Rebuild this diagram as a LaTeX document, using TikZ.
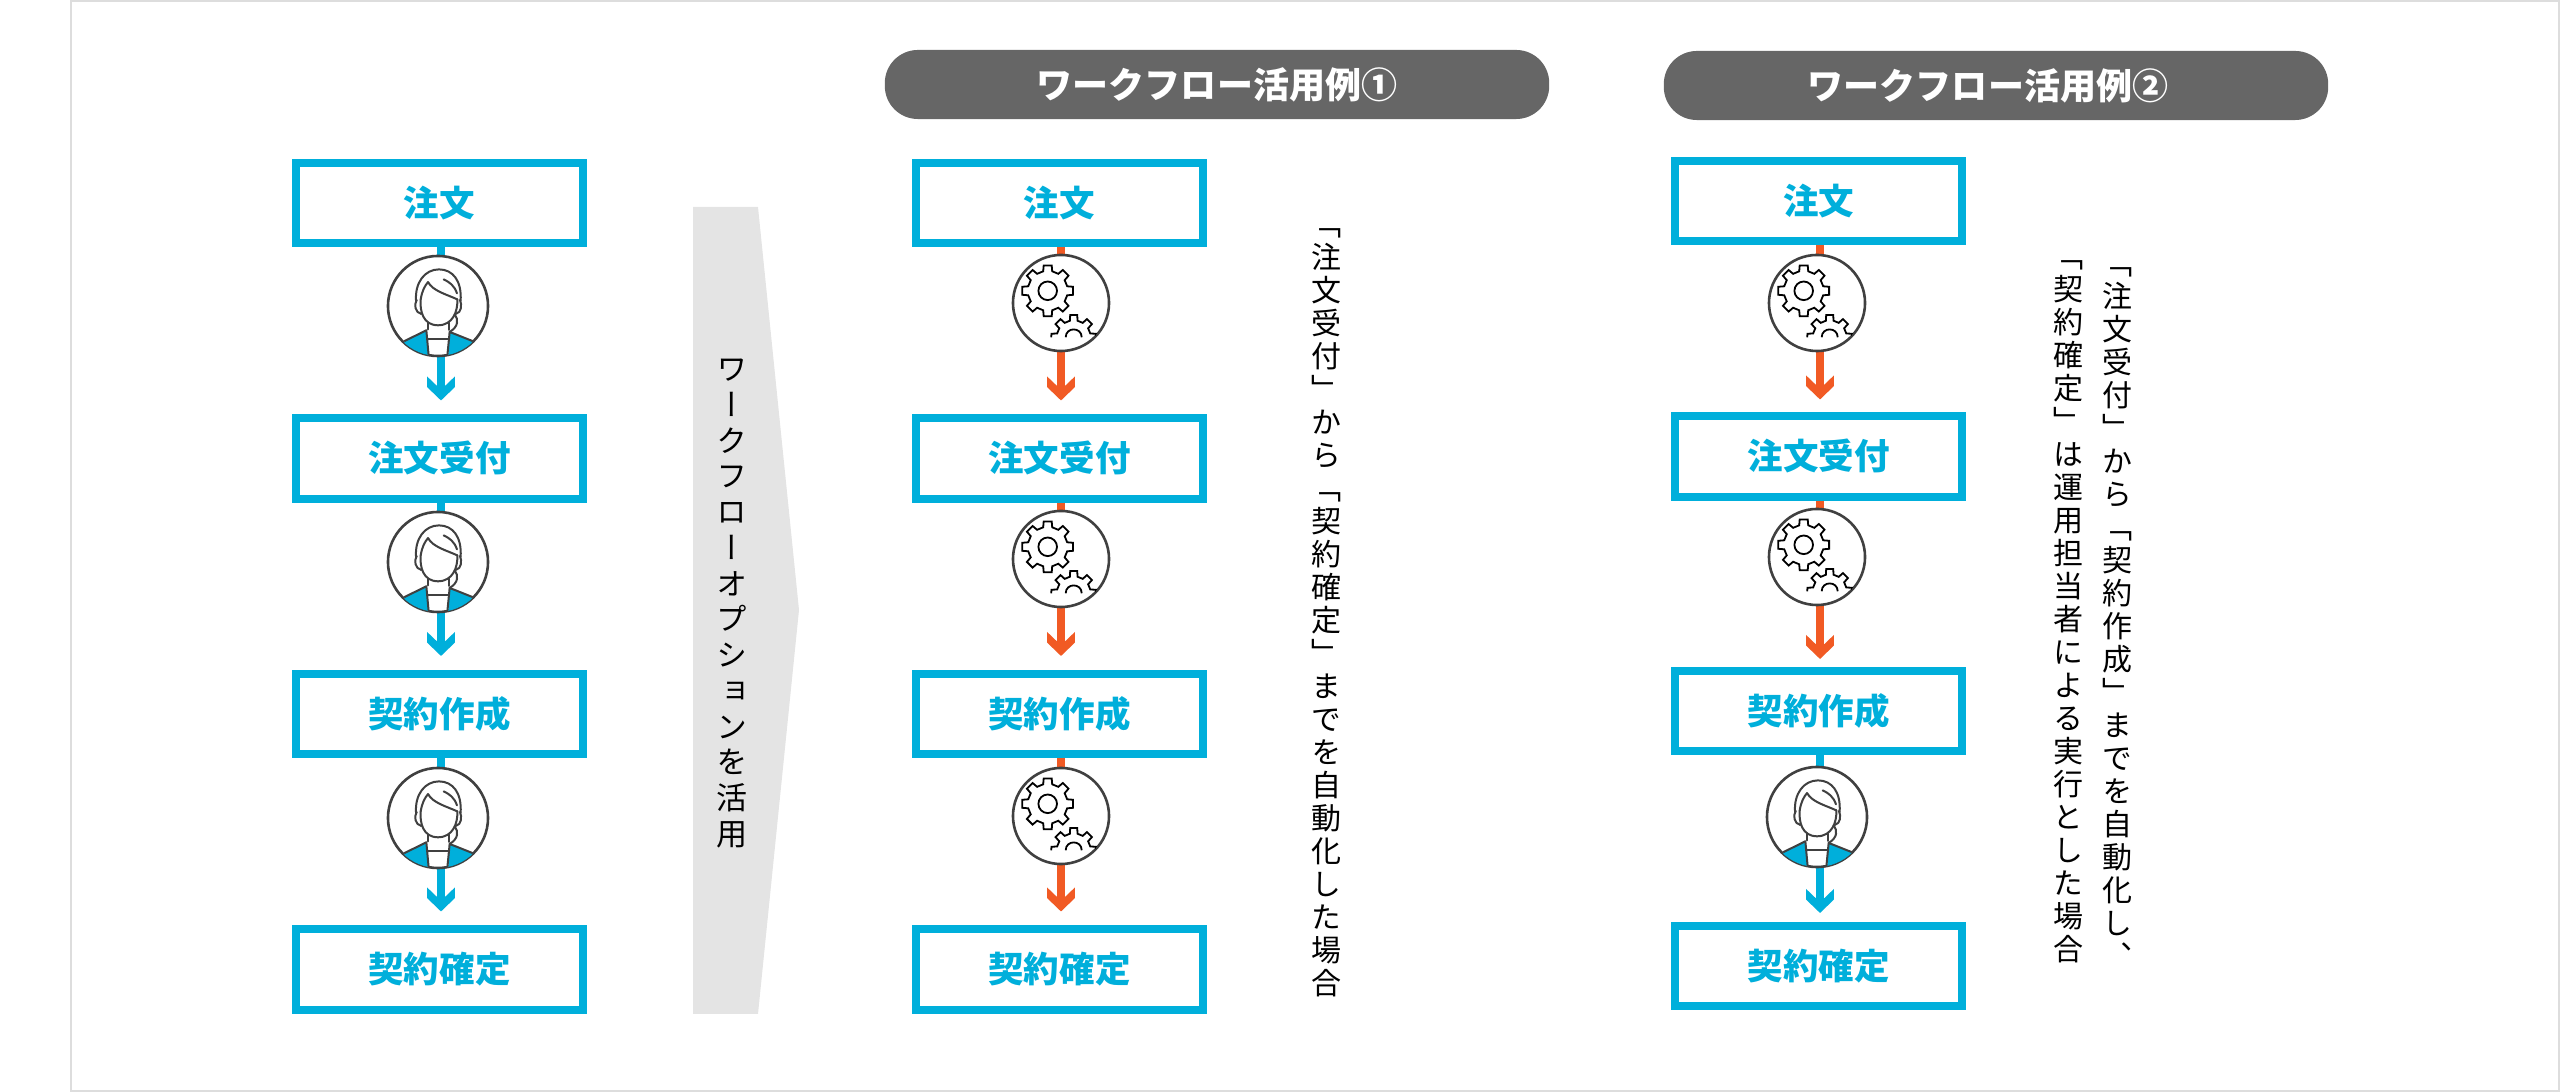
\documentclass[tikz,border=0pt]{standalone}
\usepackage{fontspec}
\usetikzlibrary{arrows.meta,shapes.misc}
\newfontfamily\jp{Noto Sans CJK JP}
\newfontfamily\jpv[RawFeature=+vert]{Noto Sans CJK JP}
\definecolor{flowblue}{HTML}{00AFDB}
\definecolor{floworange}{HTML}{F15A24}
\definecolor{pillgrey}{HTML}{666666}
\definecolor{arrowgrey}{HTML}{E4E4E4}
\definecolor{framegrey}{HTML}{DDDDDD}
\definecolor{iconline}{HTML}{404040}
\newdimen\pxu \pxu=0.2845pt
% vertical setting: one upright glyph per line
\newdimen\VSh \newdimen\VSd
\def\VSend{\VSend}
\def\VSloop#1{\ifx#1\VSend\else\hbox to 1em{\hss\vrule width 0pt height\VSh depth\VSd #1\hss}\expandafter\VSloop\fi}
\newcommand\vstack[3]{\vbox{\offinterlineskip\fontsize{#2}{#2}\selectfont\jpv
  \VSh=\dimexpr#1*1/2+0.38em\relax \VSd=\dimexpr#1*1/2-0.38em\relax
  \VSloop#3\VSend}}
% flow arrow tip: chevron with vertically cut wings
\pgfdeclarearrow{
  name=FlowTip,
  setup code={\pgfarrowssettipend{0pt}\pgfarrowssetlineend{-10\pxu}%
    \pgfarrowssetbackend{-24\pxu}\pgfarrowshullpoint{0pt}{0pt}},
  drawing code={%
    \pgfpathmoveto{\pgfqpoint{0pt}{0pt}}%
    \pgfpathlineto{\pgfpoint{-13.4*\pxu}{13.9*\pxu}}%
    \pgfpathlineto{\pgfpoint{-24*\pxu}{13.9*\pxu}}%
    \pgfpathlineto{\pgfpoint{-14.5*\pxu}{4*\pxu}}%
    \pgfpathlineto{\pgfpoint{-14.5*\pxu}{-4*\pxu}}%
    \pgfpathlineto{\pgfpoint{-24*\pxu}{-13.9*\pxu}}%
    \pgfpathlineto{\pgfpoint{-13.4*\pxu}{-13.9*\pxu}}%
    \pgfpathclose\pgfusepathqfill},
}
\tikzset{
  flowbox/.style={draw=flowblue,line width=.08cm,fill=white,minimum width=2.87cm,minimum height=.8cm,inner sep=0pt,
    text=flowblue,font=\jp\bfseries\fontsize{35.5\pxu}{35.5\pxu}\selectfont,text height=.312cm,text depth=.043cm},
  flowline/.style={line width=.08cm,-{FlowTip},shorten >=#1},
  flowline/.default=.14cm,
  humanline/.style={flowline=#1,draw=flowblue,fill=flowblue},
  humanline/.default=.14cm,
  autoline/.style={flowline=#1,draw=floworange,fill=floworange},
  autoline/.default=.14cm,
  badge/.style={circle,draw=iconline,line width=.026cm,fill=white,inner sep=0pt,minimum size=#1},
  persondisc/.style={badge=1.00cm},
  geardisc/.style={badge=.96cm},
  pill/.style={fill=pillgrey,rounded corners=.33cm,minimum width=6.64cm,minimum height=.69cm,inner sep=0pt,
    text=white,font=\jp\bfseries\fontsize{36\pxu}{36\pxu}\selectfont,text height=.317cm,text depth=.043cm},
  vnote/.style={anchor=north,inner sep=0pt,text=black},
  person/.pic={
    \begin{scope}[x=.0033333cm,y=-.0033333cm,line width=.02cm,draw=iconline,line cap=round,line join=round]
      \begin{scope}
        \clip (0,0) circle [radius=150];
        \fill[flowblue] (-100,105) -- (-35,73) -- (-28,155) -- (-110,155) -- cycle;
        \fill[flowblue] (35,78) -- (103,105) -- (110,155) -- (30,155) -- cycle;
        \draw (-100,105) -- (-35,73) -- (-28,150);
        \draw (103,105) -- (35,78) -- (28,150);
      \end{scope}
      \draw (-30,98) -- (30,98);
      \draw (-30,50) -- (-30,70);
      \draw (33,50) -- (33,72);
      % hair
      \draw (-66,-15) .. controls (-70,-70) and (-40,-110) .. (3,-110) .. controls (45,-110) and (72,-75) .. (68,-15);
      \draw (-52,-20) .. controls (-48,-45) and (-40,-60) .. (-30,-72) .. controls (-15,-45) and (25,-35) .. (58,-20);
      \draw (17,-80) .. controls (35,-72) and (50,-60) .. (57,-38);
      % face
      \draw (-52,-20) .. controls (-55,15) and (-45,58) .. (0,58) .. controls (45,58) and (60,15) .. (58,-20);
      % ears
      \draw (-64,-18) .. controls (-72,-5) and (-70,20) .. (-50,24);
      \draw (66,-18) .. controls (72,-5) and (72,20) .. (53,24);
      % ponytail
      \draw (50,25) .. controls (62,40) and (62,62) .. (35,78);
    \end{scope}
  },
  gears/.pic={
    \begin{scope}[line width=.018cm,draw=black,line join=miter]
      \begin{scope}[shift={(-13.3,-12.2)}]
        \draw (-13:20) \foreach \a in {0,45,...,315}{ -- (\a-13:20) -- (\a-9:25.7) -- (\a+9:25.7) -- (\a+13:20)} -- cycle;
        \draw (0,0) circle [radius=9.3];
      \end{scope}
      \begin{scope}
        \clip (0,0) circle [radius=47.5];
        \begin{scope}[shift={(12.7,34.3)}]
          \draw (180:22.5) -- (189:22.5) -- (193:17)
            \foreach \a in {225,270,315}{ -- (\a-13:17) -- (\a-9:22.5) -- (\a+9:22.5) -- (\a+13:17)}
            -- (347:17) -- (351:22.5) -- (360:22.5);
          \draw (-8,0) .. controls (-8,-10.5) and (8,-10.5) .. (8,0);
        \end{scope}
      \end{scope}
    \end{scope}
  },
}
\begin{document}
\begin{tikzpicture}[x=.01cm,y=-.01cm]
\useasboundingbox (0,0) rectangle (2560,1092);
\draw[framegrey,line width=.02cm] (71,1) rectangle (2559,1091);
% big grey arrow
\fill[arrowgrey] (693,207) -- (758,207) -- (799,610) -- (758,1014) -- (693,1014) -- cycle;
\node[vnote] (optlabel) at (732,350.5) {\vstack{35.7\pxu}{31\pxu}{ワークフローオプションを活用}};
% pills
\node[pill] (pilla) at (1217,84.5) {ワークフロー活用例①};
\node[pill] (pillb) at (1996,85.5) {ワークフロー活用例②\kern.16cm};
% boxes
\node[flowbox] (a1) at (439.5,203) {注文};
\node[flowbox] (a2) at (439.5,458.5) {注文受付};
\node[flowbox] (a3) at (439.5,714) {契約作成};
\node[flowbox] (a4) at (439.5,969.5) {契約確定};
\node[flowbox] (b1) at (1059.5,203) {注文};
\node[flowbox] (b2) at (1059.5,458.5) {注文受付};
\node[flowbox] (b3) at (1059.5,714) {契約作成};
\node[flowbox] (b4) at (1059.5,969.5) {契約確定};
\node[flowbox] (c1) at (1818.5,201.3) {注文};
\node[flowbox] (c2) at (1818.5,456.5) {注文受付};
\node[flowbox] (c3) at (1818.5,711) {契約作成};
\node[flowbox] (c4) at (1818.5,966) {契約確定};
% connectors
\draw[humanline] ([xshift=.015cm]a1.south) -- ([xshift=.015cm]a2.north);
\draw[humanline] ([xshift=.015cm]a2.south) -- ([xshift=.015cm]a3.north);
\draw[humanline] ([xshift=.015cm]a3.south) -- ([xshift=.015cm]a4.north);
\draw[autoline] ([xshift=.015cm]b1.south) -- ([xshift=.015cm]b2.north);
\draw[autoline] ([xshift=.015cm]b2.south) -- ([xshift=.015cm]b3.north);
\draw[autoline] ([xshift=.015cm]b3.south) -- ([xshift=.015cm]b4.north);
\draw[autoline=.13cm] ([xshift=.015cm]c1.south) -- ([xshift=.015cm]c2.north);
\draw[autoline=.08cm] ([xshift=.015cm]c2.south) -- ([xshift=.015cm]c3.north);
\draw[humanline=.09cm] ([xshift=.015cm]c3.south) -- ([xshift=.015cm]c4.north);
% icons
\node[persondisc] (pa1) at (438,306) {};
\node[persondisc] (pa2) at (438,562) {};
\node[persondisc] (pa3) at (438,818) {};
\node[persondisc] (pc3) at (1817,817) {};
\pic at (pa1) {person};
\pic at (pa2) {person};
\pic at (pa3) {person};
\pic at (pc3) {person};
\node[geardisc] (gb1) at (1061,303) {};
\node[geardisc] (gb2) at (1061,559) {};
\node[geardisc] (gb3) at (1061,816) {};
\node[geardisc] (gc1) at (1817,303) {};
\node[geardisc] (gc2) at (1817,557) {};
\pic at (gb1) {gears};
\pic at (gb2) {gears};
\pic at (gb3) {gears};
\pic at (gc1) {gears};
\pic at (gc2) {gears};
% notes
\node[vnote] (noteb) at (1326,206.5) {\vstack{33\pxu}{30\pxu}{「注文受付」から「契約確定」までを自動化した場合}};
\node[vnote] (notec) at (2117,245.5) {\vstack{33\pxu}{30\pxu}{「注文受付」から「契約作成」までを自動化し、}};
\node[vnote] (noted) at (2068,238.5) {\vstack{33\pxu}{30\pxu}{「契約確定」は運用担当者による実行とした場合}};
\end{tikzpicture}
\end{document}
